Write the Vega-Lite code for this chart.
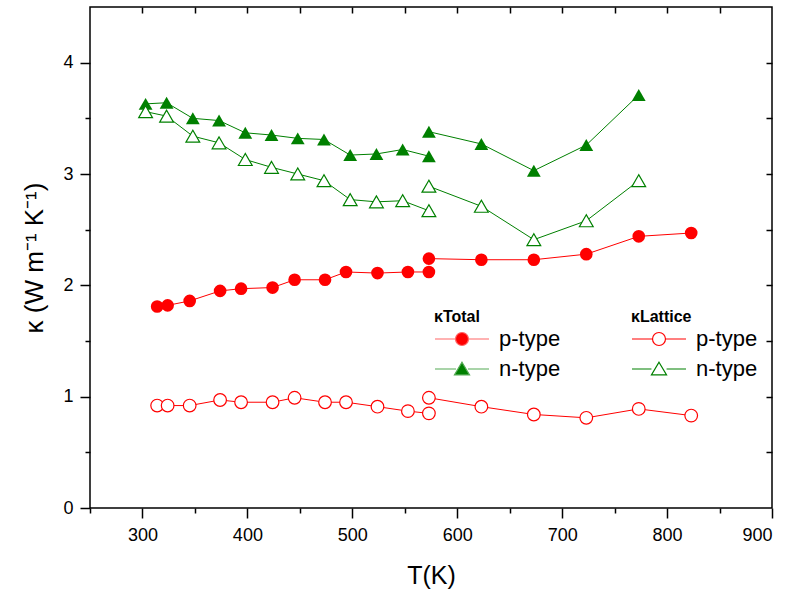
{
  "$schema": "https://vega.github.io/schema/vega-lite/v6.json",
  "width": 682,
  "height": 501,
  "autosize": {"type": "none"},
  "padding": {"left": 90, "top": 7, "right": 19, "bottom": 87},
  "background": "white",
  "config": {
    "view": {"stroke": "black", "strokeWidth": 1.5},
    "font": "Liberation Sans",
    "axis": {"grid": false, "domain": false, "tickColor": "black", "tickWidth": 1.5, "labelColor": "black", "titleColor": "black", "labelFont": "Liberation Sans", "titleFont": "Liberation Sans", "labelFontSize": 18, "titleFontWeight": "normal"},
    "legend": {"labelFont": "Liberation Sans", "titleFont": "Liberation Sans", "labelColor": "black", "titleColor": "black"}
  },
  "data": {"values": [
    {"T": 303, "k": 3.63, "kind": "Total", "type": "n-type", "seg": 1},
    {"T": 323, "k": 3.64, "kind": "Total", "type": "n-type", "seg": 1},
    {"T": 348, "k": 3.50, "kind": "Total", "type": "n-type", "seg": 1},
    {"T": 373, "k": 3.48, "kind": "Total", "type": "n-type", "seg": 1},
    {"T": 398, "k": 3.37, "kind": "Total", "type": "n-type", "seg": 1},
    {"T": 423, "k": 3.35, "kind": "Total", "type": "n-type", "seg": 1},
    {"T": 448, "k": 3.32, "kind": "Total", "type": "n-type", "seg": 1},
    {"T": 473, "k": 3.31, "kind": "Total", "type": "n-type", "seg": 1},
    {"T": 498, "k": 3.17, "kind": "Total", "type": "n-type", "seg": 1},
    {"T": 523, "k": 3.18, "kind": "Total", "type": "n-type", "seg": 1},
    {"T": 548, "k": 3.22, "kind": "Total", "type": "n-type", "seg": 1},
    {"T": 573, "k": 3.16, "kind": "Total", "type": "n-type", "seg": 1},
    {"T": 573, "k": 3.38, "kind": "Total", "type": "n-type", "seg": 2},
    {"T": 623, "k": 3.27, "kind": "Total", "type": "n-type", "seg": 2},
    {"T": 673, "k": 3.03, "kind": "Total", "type": "n-type", "seg": 2},
    {"T": 723, "k": 3.26, "kind": "Total", "type": "n-type", "seg": 2},
    {"T": 773, "k": 3.71, "kind": "Total", "type": "n-type", "seg": 2},
    {"T": 303, "k": 3.56, "kind": "Lattice", "type": "n-type", "seg": 1},
    {"T": 323, "k": 3.52, "kind": "Lattice", "type": "n-type", "seg": 1},
    {"T": 348, "k": 3.34, "kind": "Lattice", "type": "n-type", "seg": 1},
    {"T": 373, "k": 3.28, "kind": "Lattice", "type": "n-type", "seg": 1},
    {"T": 398, "k": 3.13, "kind": "Lattice", "type": "n-type", "seg": 1},
    {"T": 423, "k": 3.06, "kind": "Lattice", "type": "n-type", "seg": 1},
    {"T": 448, "k": 3.00, "kind": "Lattice", "type": "n-type", "seg": 1},
    {"T": 473, "k": 2.94, "kind": "Lattice", "type": "n-type", "seg": 1},
    {"T": 498, "k": 2.77, "kind": "Lattice", "type": "n-type", "seg": 1},
    {"T": 523, "k": 2.75, "kind": "Lattice", "type": "n-type", "seg": 1},
    {"T": 548, "k": 2.76, "kind": "Lattice", "type": "n-type", "seg": 1},
    {"T": 573, "k": 2.67, "kind": "Lattice", "type": "n-type", "seg": 1},
    {"T": 573, "k": 2.89, "kind": "Lattice", "type": "n-type", "seg": 2},
    {"T": 623, "k": 2.71, "kind": "Lattice", "type": "n-type", "seg": 2},
    {"T": 673, "k": 2.41, "kind": "Lattice", "type": "n-type", "seg": 2},
    {"T": 723, "k": 2.58, "kind": "Lattice", "type": "n-type", "seg": 2},
    {"T": 773, "k": 2.94, "kind": "Lattice", "type": "n-type", "seg": 2},
    {"T": 314, "k": 1.81, "kind": "Total", "type": "p-type", "seg": 1},
    {"T": 324, "k": 1.82, "kind": "Total", "type": "p-type", "seg": 1},
    {"T": 345, "k": 1.86, "kind": "Total", "type": "p-type", "seg": 1},
    {"T": 374, "k": 1.95, "kind": "Total", "type": "p-type", "seg": 1},
    {"T": 394, "k": 1.97, "kind": "Total", "type": "p-type", "seg": 1},
    {"T": 424, "k": 1.98, "kind": "Total", "type": "p-type", "seg": 1},
    {"T": 445, "k": 2.05, "kind": "Total", "type": "p-type", "seg": 1},
    {"T": 474, "k": 2.05, "kind": "Total", "type": "p-type", "seg": 1},
    {"T": 494, "k": 2.12, "kind": "Total", "type": "p-type", "seg": 1},
    {"T": 524, "k": 2.11, "kind": "Total", "type": "p-type", "seg": 1},
    {"T": 553, "k": 2.12, "kind": "Total", "type": "p-type", "seg": 1},
    {"T": 573, "k": 2.12, "kind": "Total", "type": "p-type", "seg": 1},
    {"T": 573, "k": 2.24, "kind": "Total", "type": "p-type", "seg": 2},
    {"T": 623, "k": 2.23, "kind": "Total", "type": "p-type", "seg": 2},
    {"T": 673, "k": 2.23, "kind": "Total", "type": "p-type", "seg": 2},
    {"T": 723, "k": 2.28, "kind": "Total", "type": "p-type", "seg": 2},
    {"T": 773, "k": 2.44, "kind": "Total", "type": "p-type", "seg": 2},
    {"T": 823, "k": 2.47, "kind": "Total", "type": "p-type", "seg": 2},
    {"T": 314, "k": 0.92, "kind": "Lattice", "type": "p-type", "seg": 1},
    {"T": 324, "k": 0.92, "kind": "Lattice", "type": "p-type", "seg": 1},
    {"T": 345, "k": 0.92, "kind": "Lattice", "type": "p-type", "seg": 1},
    {"T": 374, "k": 0.97, "kind": "Lattice", "type": "p-type", "seg": 1},
    {"T": 394, "k": 0.95, "kind": "Lattice", "type": "p-type", "seg": 1},
    {"T": 424, "k": 0.95, "kind": "Lattice", "type": "p-type", "seg": 1},
    {"T": 445, "k": 0.99, "kind": "Lattice", "type": "p-type", "seg": 1},
    {"T": 474, "k": 0.95, "kind": "Lattice", "type": "p-type", "seg": 1},
    {"T": 494, "k": 0.95, "kind": "Lattice", "type": "p-type", "seg": 1},
    {"T": 524, "k": 0.91, "kind": "Lattice", "type": "p-type", "seg": 1},
    {"T": 553, "k": 0.87, "kind": "Lattice", "type": "p-type", "seg": 1},
    {"T": 573, "k": 0.85, "kind": "Lattice", "type": "p-type", "seg": 1},
    {"T": 573, "k": 0.99, "kind": "Lattice", "type": "p-type", "seg": 2},
    {"T": 623, "k": 0.91, "kind": "Lattice", "type": "p-type", "seg": 2},
    {"T": 673, "k": 0.84, "kind": "Lattice", "type": "p-type", "seg": 2},
    {"T": 723, "k": 0.81, "kind": "Lattice", "type": "p-type", "seg": 2},
    {"T": 773, "k": 0.89, "kind": "Lattice", "type": "p-type", "seg": 2},
    {"T": 823, "k": 0.83, "kind": "Lattice", "type": "p-type", "seg": 2}
  ]},
  "resolve": {"axis": {"x": "independent", "y": "independent"}},
  "layer": [
    {
      "transform": [{"filter": "datum.kind === 'Total'"}],
      "mark": {"type": "line", "strokeWidth": 1},
      "encoding": {
        "x": {"field": "T", "type": "quantitative", "scale": {"domain": [250, 900], "nice": false, "zero": false},
              "axis": {"orient": "bottom", "values": [300, 400, 500, 600, 700, 800, 900], "tickSize": 10, "labelPadding": 8, "labelFontSize": 18, "title": "T(K)", "titleFontSize": 25, "titlePadding": 19}},
        "y": {"field": "k", "type": "quantitative", "scale": {"domain": [0, 4.5], "nice": false},
              "axis": {"orient": "left", "values": [0, 1, 2, 3, 4], "tickSize": 10, "labelPadding": 7, "labelFontSize": 18, "title": "κ (W m⁻¹ K⁻¹)", "titleFontSize": 26, "titlePadding": 15}},
        "stroke": {"field": "type", "type": "nominal", "scale": {"domain": ["p-type", "n-type", "none"], "range": ["#ff0000", "#008000", "#000000"]}, "legend": null},
        "detail": {"field": "seg", "type": "nominal"}
      }
    },
    {
      "transform": [{"filter": "datum.kind === 'Total'"}],
      "mark": {"type": "point", "filled": true, "opacity": 1, "strokeWidth": 0},
      "encoding": {
        "x": {"field": "T", "type": "quantitative", "axis": {"orient": "bottom", "values": [250, 350, 450, 550, 650, 750, 850], "tickSize": 5, "labels": false, "title": null}},
        "y": {"field": "k", "type": "quantitative", "axis": {"orient": "left", "values": [0.5, 1.5, 2.5, 3.5], "tickSize": 5, "labels": false, "title": null}},
        "fill": {"field": "type", "type": "nominal", "scale": {"domain": ["p-type", "n-type"], "range": ["#ff0000", "#008000"]},
                 "legend": {"title": "κTotal", "orient": "none", "legendX": 344, "legendY": 302, "titleFontSize": 16, "titleFontWeight": "bold", "titlePadding": 2,
                            "labelFontSize": 22, "labelOffset": 9, "symbolSize": 2916, "clipHeight": 24, "rowPadding": 6, "padding": 0,
                            "symbolType": {"expr": "datum.value === 'p-type' ? 'M-1,0L-0.24,0M0.24,0L1,0M0.24,0A0.24,0.24,0,1,1,-0.24,0A0.24,0.24,0,1,1,0.24,0Z' : 'M-1,0L-0.22,0M0.22,0L1,0M0,-0.25L0.28,0.22L-0.28,0.22Z'"},
                            "symbolStrokeColor": {"expr": "datum.value === 'p-type' ? '#ff6666' : '#55aa55'"},
                            "symbolStrokeWidth": 1.2}},
        "shape": {"field": "type", "type": "nominal", "scale": {"domain": ["p-type", "n-type", "none"], "range": ["circle", "triangle-up", "square"]}, "legend": null},
        "size": {"field": "type", "type": "nominal", "scale": {"domain": ["p-type", "n-type", "none"], "range": [160, 220, 100]}, "legend": null}
      }
    },
    {
      "transform": [{"filter": "datum.kind === 'Lattice'"}],
      "mark": {"type": "line", "strokeWidth": 1},
      "encoding": {
        "x": {"field": "T", "type": "quantitative", "axis": {"orient": "top", "values": [300, 350, 400, 450, 500, 550, 600, 650, 700, 750, 800, 850], "tickSize": -6, "labels": false, "title": null}},
        "y": {"field": "k", "type": "quantitative", "axis": {"orient": "right", "values": [0.5, 1, 1.5, 2, 2.5, 3, 3.5, 4], "tickSize": -6, "labels": false, "title": null}},
        "stroke": {"field": "type", "type": "nominal", "legend": null},
        "detail": {"field": "seg", "type": "nominal"}
      }
    },
    {
      "transform": [{"filter": "datum.kind === 'Lattice'"}],
      "mark": {"type": "point", "filled": false, "fill": "white", "fillOpacity": 1, "opacity": 1, "strokeWidth": 1.2},
      "encoding": {
        "x": {"field": "T", "type": "quantitative", "axis": null},
        "y": {"field": "k", "type": "quantitative", "axis": null},
        "color": {"field": "type", "type": "nominal", "scale": {"domain": ["n-type", "p-type"], "range": ["#008000", "#ff0000"]},
                  "legend": {"title": "κLattice", "orient": "none", "legendX": 541, "legendY": 302, "values": ["p-type", "n-type"], "titleFontSize": 16, "titleFontWeight": "bold", "titlePadding": 2,
                             "labelFontSize": 22, "labelOffset": 9, "symbolSize": 2916, "clipHeight": 24, "rowPadding": 6, "padding": 0,
                             "symbolType": {"expr": "datum.value === 'p-type' ? 'M-1,0L-0.24,0M0.24,0L1,0M0.24,0A0.24,0.24,0,1,1,-0.24,0A0.24,0.24,0,1,1,0.24,0Z' : 'M-1,0L-0.28,0M0.28,0L1,0M0,-0.25L0.28,0.22L-0.28,0.22Z'"},
                             "symbolFillColor": "white",
                             "symbolStrokeWidth": 1.2}},
        "shape": {"field": "type", "type": "nominal", "legend": null},
        "size": {"field": "type", "type": "nominal", "legend": null}
      }
    }
  ]
}
